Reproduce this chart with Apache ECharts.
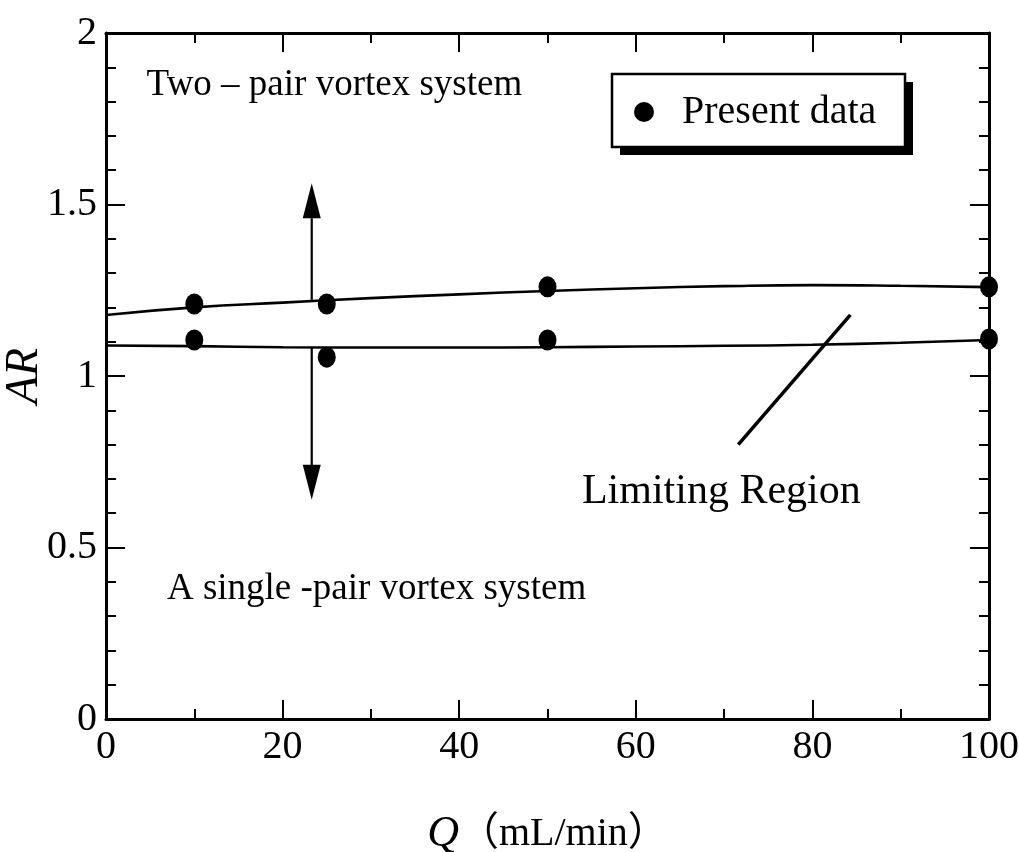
<!DOCTYPE html>
<html>
<head>
<meta charset="utf-8">
<script src="https://cdn.jsdelivr.net/npm/echarts/dist/echarts.min.js"></script>
<style>
html,body{margin:0;padding:0;background:#fff;}
#main{width:1019px;height:852px;}
</style>
</head>
<body>
<div id="main"></div>
<script>
// ---- data ----
const presentQ  = [10, 25, 50, 100, 10, 25, 50, 100];
const presentAR = [1.21, 1.21, 1.26, 1.26, 1.105, 1.055, 1.105, 1.108];

const curveQ     = [0, 10, 20, 30, 40, 50, 60, 70, 80, 90, 100];
const upperCurve = [1.178, 1.200, 1.214, 1.227, 1.238, 1.248, 1.256, 1.262, 1.265, 1.263, 1.259];
const lowerCurve = [1.089, 1.087, 1.084, 1.083, 1.083, 1.084, 1.086, 1.088, 1.091, 1.097, 1.105];

const arrowQ      = 23.3;
const arrowUpAR   = [1.222, 1.46];   // shaft from upper curve to arrow head base
const arrowUpHead = 1.511;           // centre of upper arrow head
const arrowDnAR   = [1.082, 0.74];
const arrowDnHead = 0.69;

const limitQ  = [71.6, 84.3];
const limitAR = [0.80, 1.178];

const notes = [
  {q: 4.6,  ar: 1.848, text: 'Two \u2013 pair vortex system', size: 37},
  {q: 6.9,  ar: 0.379, text: 'A single -pair vortex system', size: 37},
  {q: 53.9, ar: 0.662, text: 'Limiting Region', size: 42}
];

const xTicks = {min: 0, max: 100, interval: 20};
const yTicks = {min: 0, max: 2, interval: 0.5};

// ---- chart ----
const serif = '"Liberation Serif", "Times New Roman", serif';
const chart = echarts.init(document.getElementById('main'), null, {renderer: 'canvas'});

function axisCommon(extra) {
  return Object.assign({
    axisLine: {show: true, onZero: false, lineStyle: {color: '#000', width: 3}},
    axisTick: {show: true, inside: true, length: 19, lineStyle: {color: '#000', width: 2}},
    minorTick: {show: true, length: 10, lineStyle: {color: '#000', width: 2}},
    splitLine: {show: false},
    axisLabel: {color: '#000', fontFamily: serif, fontSize: 40}
  }, extra);
}

const pair = (xs, ys) => xs.map((x, i) => [x, ys[i]]);

chart.setOption({
  animation: false,
  backgroundColor: '#fff',
  grid: {left: 106, right: 30, top: 33, bottom: 133, containLabel: false, outerBoundsMode: 'none'},
  xAxis: [
    axisCommon({
      type: 'value', position: 'bottom', min: xTicks.min, max: xTicks.max, interval: xTicks.interval,
      minorTick: {show: true, splitNumber: 2, length: 10, lineStyle: {color: '#000', width: 2}},
      axisLabel: {color: '#000', fontFamily: serif, fontSize: 40, margin: 8},
      name: '{q|Q}{u|\uFF08mL/min\uFF09}',
      nameLocation: 'middle', nameGap: 93, nameMoveOverlap: false,
      nameTextStyle: {
        rich: {
          q: {fontFamily: serif, fontStyle: 'italic', fontSize: 44, color: '#000'},
          u: {fontFamily: serif + ', "Noto Sans CJK JP"', fontSize: 40, color: '#000'}
        }
      }
    }),
    axisCommon({
      type: 'value', position: 'top', min: xTicks.min, max: xTicks.max, interval: xTicks.interval,
      minorTick: {show: true, splitNumber: 2, length: 10, lineStyle: {color: '#000', width: 2}},
      axisLabel: {show: false}
    })
  ],
  yAxis: [
    axisCommon({
      type: 'value', position: 'left', min: yTicks.min, max: yTicks.max, interval: yTicks.interval,
      minorTick: {show: true, splitNumber: 5, length: 10, lineStyle: {color: '#000', width: 2}},
      axisLabel: {color: '#000', fontFamily: serif, fontSize: 40, margin: 9},
      name: 'AR', nameLocation: 'middle', nameGap: 58, nameRotate: 90, nameMoveOverlap: false,
      nameTextStyle: {fontFamily: serif, fontStyle: 'italic', fontSize: 46, color: '#000'}
    }),
    axisCommon({
      type: 'value', position: 'right', min: yTicks.min, max: yTicks.max, interval: yTicks.interval,
      minorTick: {show: true, splitNumber: 5, length: 10, lineStyle: {color: '#000', width: 2}},
      axisLabel: {show: false}
    })
  ],
  legend: {
    data: ['Present data'],
    left: 634, top: 92, padding: 0,
    icon: 'circle', itemWidth: 20, itemHeight: 20,
    itemStyle: {color: '#000', opacity: 1},
    formatter: '{t|{name}}',
    textStyle: {
      color: '#000',
      rich: {t: {fontFamily: serif, fontSize: 40, color: '#000', padding: [0, 0, 0, 23]}}
    },
    z: 10
  },
  graphic: [
    {type: 'rect', z: 8, shape: {x: 620, y: 82, width: 293, height: 73}, style: {fill: '#000'}},
    {type: 'rect', z: 9, shape: {x: 612, y: 74, width: 293, height: 73},
     style: {fill: '#fff', stroke: '#000', lineWidth: 2.5}}
  ],
  series: [
    {
      name: 'upper fit', type: 'line', smooth: true, symbol: 'none',
      data: pair(curveQ, upperCurve),
      lineStyle: {color: '#000', width: 2.6}
    },
    {
      name: 'lower fit', type: 'line', smooth: true, symbol: 'none',
      data: pair(curveQ, lowerCurve),
      lineStyle: {color: '#000', width: 2.6}
    },
    {
      name: 'arrow up', type: 'line', symbol: 'none',
      data: pair([arrowQ, arrowQ], arrowUpAR),
      lineStyle: {color: '#000', width: 2.2}
    },
    {
      name: 'arrow down', type: 'line', symbol: 'none',
      data: pair([arrowQ, arrowQ], arrowDnAR),
      lineStyle: {color: '#000', width: 2.2}
    },
    {
      name: 'arrow heads', type: 'scatter', symbol: 'triangle', symbolSize: [18, 35],
      data: [
        {value: [arrowQ, arrowUpHead], symbolRotate: 0},
        {value: [arrowQ, arrowDnHead], symbolRotate: 180}
      ],
      itemStyle: {color: '#000', opacity: 1}
    },
    {
      name: 'limiting region', type: 'line', symbol: 'none',
      data: pair(limitQ, limitAR),
      lineStyle: {color: '#000', width: 3.5}
    },
    {
      name: 'Present data', type: 'scatter', symbol: 'circle', symbolSize: [18, 21],
      data: pair(presentQ, presentAR),
      itemStyle: {color: '#000', opacity: 1}, z: 5
    },
    {
      name: 'notes', type: 'scatter', symbolSize: 0, silent: true,
      data: notes.map(n => ({
        value: [n.q, n.ar],
        label: {
          show: true, position: 'right', distance: 0, opacity: 1,
          formatter: n.text, fontFamily: serif, fontSize: n.size, color: '#000'
        }
      })),
      itemStyle: {color: 'transparent', opacity: 1}
    }
  ]
});
</script>
</body>
</html>
